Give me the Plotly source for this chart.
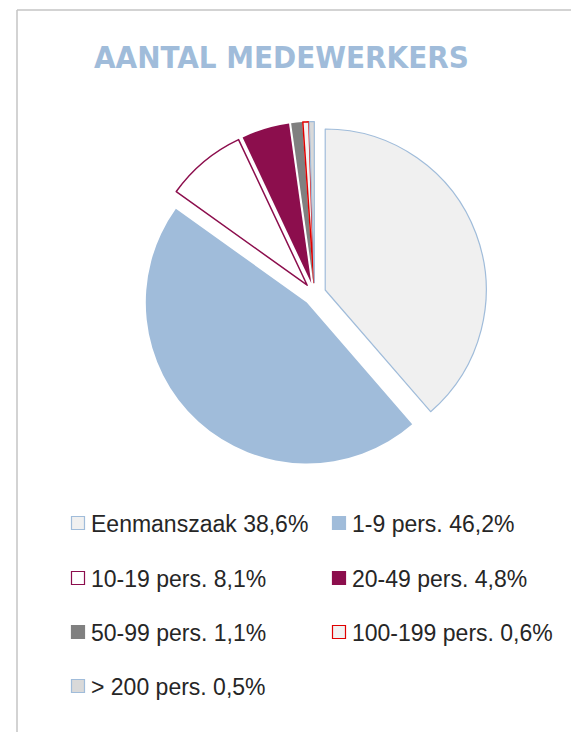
import plotly.graph_objects as go

# ---- data ----
categories = ["Eenmanszaak", "1-9 pers.", "10-19 pers.", "20-49 pers.",
              "50-99 pers.", "100-199 pers.", "> 200 pers."]
values = [38.6, 46.2, 8.1, 4.8, 1.1, 0.6, 0.5]
title_text = "AANTAL MEDEWERKERS"

# ---- styles ----
fill_colors = ["#F0F0F0", "#A0BCDA", "#FFFFFF", "#8C0E4D", "#808080", "#F2F2F2", "#D9D9D9"]
line_colors = ["#A0BCDA", "#A0BCDA", "#8C0E4D", "#8C0E4D", "#808080", "#E00000", "#A0BCDA"]
line_widths = [1.2, 0, 1.5, 0, 0, 1.5, 1.2]

# page has an 8px body margin; figure occupies the rest of the window
OFF = 8
W, H = 579 - OFF, 734 - OFF

def px(x):
    return (x - OFF) / W

def py(y):
    return 1 - (y - OFF) / H

pull = 0.071
R = 161
cx, cy = 314.5, 294
box = 2 * R * (1 + pull)

fig = go.Figure()
fig.add_trace(go.Pie(
    labels=categories,
    values=values,
    sort=False,
    direction="clockwise",
    rotation=0,
    pull=[pull] * len(values),
    marker=dict(colors=fill_colors, line=dict(color=line_colors, width=line_widths)),
    textinfo="none",
    hoverinfo="label+percent",
    showlegend=False,
    domain=dict(x=[px(cx) - 0.4, px(cx) + 0.4],
                y=[py(cy) - box / H / 2, py(cy) + box / H / 2]),
))

shapes = []
annotations = []

# frame lines (top and left)
shapes.append(dict(type="line", xref="paper", yref="paper",
                   x0=px(17), y0=py(10), x1=1, y1=py(10),
                   line=dict(color="#C4C4C4", width=1.5)))
shapes.append(dict(type="line", xref="paper", yref="paper",
                   x0=px(17), y0=py(10), x1=px(17), y1=py(732),
                   line=dict(color="#C4C4C4", width=1.5)))

# title
annotations.append(dict(
    text="<b>" + title_text + "</b>", xref="paper", yref="paper",
    x=px(281), y=py(57), xanchor="center", yanchor="middle", showarrow=False,
    font=dict(family="DejaVu Sans Condensed, Liberation Sans Narrow, Roboto, sans-serif",
              size=31, color="#A0BCDA"),
))

# custom legend (2 columns)
col_x = [78, 339]
row_y = [523, 578, 632, 686]
half = 6.5
for i, (cat, val) in enumerate(zip(categories, values)):
    r, c = divmod(i, 2)
    mx, my = col_x[c], row_y[r]
    shapes.append(dict(type="rect", xref="paper", yref="paper",
                       x0=px(mx - half), x1=px(mx + half),
                       y0=py(my + half), y1=py(my - half),
                       fillcolor=fill_colors[i],
                       line=dict(color=line_colors[i] if line_widths[i] > 0 else fill_colors[i],
                                 width=1.2)))
    label = f"{cat} {str(val).replace('.', ',')}%"
    annotations.append(dict(
        text=label, xref="paper", yref="paper",
        x=px(mx + 11), y=py(my + 1), xanchor="left", yanchor="middle",
        showarrow=False,
        font=dict(family="Liberation Sans, Arial, sans-serif", size=23, color="#262626"),
    ))

fig.update_layout(
    width=W, height=H,
    margin=dict(l=0, r=0, t=0, b=0),
    paper_bgcolor="white",
    plot_bgcolor="white",
    shapes=shapes,
    annotations=annotations,
)

fig.write_html("out.html")
